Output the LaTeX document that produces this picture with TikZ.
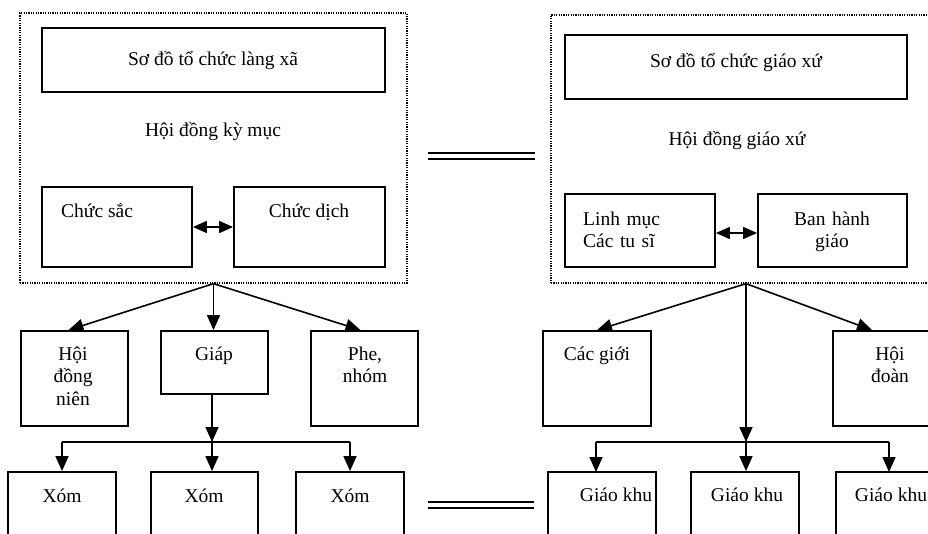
\documentclass[tikz,border=0pt]{standalone}
\usepackage{fontspec}
\setmainfont{Liberation Serif}
\usetikzlibrary{arrows.meta}

\begin{document}
\begin{tikzpicture}[x=1pt, y=-1pt,
    box/.style={draw, line width=1.8pt, inner sep=0pt},
    frame/.style={draw, line width=1.3pt, dash pattern=on 1.2pt off 1.2pt, inner sep=0pt},
    txt/.style={inner sep=0pt, anchor=base, font=\fontsize{19.5}{22.5}\selectfont},
    arr/.style={line width=1.6pt, -{Triangle[width=13pt,length=15pt]}},
    darr/.style={line width=1.6pt, {Triangle[width=12pt,length=14pt]}-{Triangle[width=12pt,length=14pt]}},
    eq/.style={double, double distance=4pt, line width=1.6pt}]
    \clip (0,0) rectangle (928,533);

    % Nodes: village
    \node[frame, minimum width=387, minimum height=270] (dotL) at (213.5,148) {};
    \node[box, minimum width=343, minimum height=64] (titleL) at (213.5,60) {};
    \node[box, minimum width=150, minimum height=80] (sac) at (117,227) {};
    \node[box, minimum width=151, minimum height=80] (dich) at (309.5,227) {};
    \node[box, minimum width=107, minimum height=95] (hdn) at (74.5,378.5) {};
    \node[box, minimum width=107, minimum height=63] (giap) at (214.5,362.5) {};
    \node[box, minimum width=107, minimum height=95] (phe) at (364.5,378.5) {};
    \node[box, minimum width=108, minimum height=95] (xom1) at (62,519.5) {};
    \node[box, minimum width=107, minimum height=95] (xom2) at (204.5,519.5) {};
    \node[box, minimum width=108, minimum height=95] (xom3) at (350,519.5) {};

    % Nodes: parish
    \node[frame, minimum width=390, minimum height=268] (dotR) at (746,149) {};
    \node[box, minimum width=342, minimum height=64] (titleR) at (736,67) {};
    \node[box, minimum width=150, minimum height=73] (linh) at (640,230.5) {};
    \node[box, minimum width=149, minimum height=73] (ban) at (832.5,230.5) {};
    \node[box, minimum width=108, minimum height=95] (cacgioi) at (597,378.5) {};
    \node[box, minimum width=108, minimum height=95] (hoidoan) at (887,378.5) {};
    \node[box, minimum width=108, minimum height=95] (gk1) at (602,519.5) {};
    \node[box, minimum width=108, minimum height=95] (gk2) at (745,519.5) {};
    \node[box, minimum width=108, minimum height=95] (gk3) at (890,519.5) {};

    % Texts
    \node[txt] (tTitleL) at (213,65) {Sơ đồ tổ chức làng xã};
    \node[txt] (tHdkm) at (213,136) {Hội đồng kỳ mục};
    \node[txt, anchor=base west] (tSac) at (61,217) {Chức sắc};
    \node[txt] (tDich) at (309,217) {Chức dịch};
    \node[txt, text width=100, align=center] (tHdn) at (73,360) {Hội\\đồng\\niên};
    \node[txt] (tGiap) at (214,360) {Giáp};
    \node[txt, text width=100, align=center] (tPhe) at (365,360) {Phe,\\nhóm};
    \node[txt] (tXom1) at (62,502) {Xóm};
    \node[txt] (tXom2) at (204,502) {Xóm};
    \node[txt] (tXom3) at (350,502) {Xóm};
    \node[txt] (tTitleR) at (736,67) {Sơ đồ tổ chức giáo xứ};
    \node[txt] (tHdgx) at (737,145) {Hội đồng giáo xứ};
    \node[txt, anchor=base west, text width=120, align=left] (tLinh) at (583,225) {Linh mục\\Các tu sĩ};
    \node[txt, text width=120, align=center] (tBan) at (832,225) {Ban hành\\giáo};
    \node[txt] (tCacgioi) at (597,360) {Các giới};
    \node[txt, text width=100, align=center] (tHoidoan) at (890,360) {Hội\\đoàn};
    \node[txt] (tGk1) at (616,501) {Giáo khu};
    \node[txt] (tGk2) at (747,501) {Giáo khu};
    \node[txt] (tGk3) at (891,501) {Giáo khu};

    % Arrows: village
    \draw[darr] (sac.east) -- (dich.west);
    \draw[arr] (dotL.south) -- ([xshift=-6pt]hdn.north);
    \draw[arr] (dotL.south) -- (dotL.south |- giap.north);
    \draw[arr] (dotL.south) -- ([xshift=-4pt]phe.north);
    \coordinate (barL) at (212,442);
    \draw[arr] (barL |- giap.south) -- (barL);
    \draw[line width=1.6pt] (xom1.north |- barL) -- (xom3.north |- barL);
    \draw[arr] (xom1.north |- barL) -- (xom1.north);
    \draw[arr] (barL) -- (barL |- xom2.north);
    \draw[arr] (xom3.north |- barL) -- (xom3.north);

    % Arrows: parish
    \draw[darr] (linh.east |- 0,233) -- (ban.west |- 0,233);
    \draw[arr] (dotR.south) -- (cacgioi.north);
    \draw[arr] (dotR.south) -- ([xshift=-15pt]hoidoan.north);
    \coordinate (barR) at (746,442);
    \draw[arr] (dotR.south) -- (barR);
    \draw[line width=1.6pt] (596,442) -- (889,442);
    \draw[arr] (596,442) -- (596,472);
    \draw[arr] (barR) -- (barR |- gk2.north);
    \draw[arr] (889,442) -- (889,472);

    % Equal signs
    \draw[eq] (428,156) -- (535,156);
    \draw[eq] (428,505) -- (534,505);
\end{tikzpicture}
\end{document}
